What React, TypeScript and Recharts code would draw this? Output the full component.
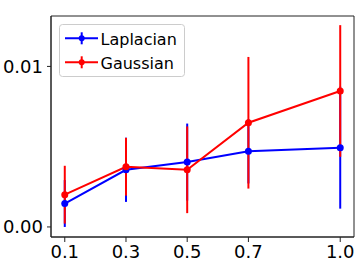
import React from "react";
import { LineChart, Line, XAxis, YAxis, ErrorBar, ReferenceArea } from "recharts";

const xValues = [0.1, 0.3, 0.5, 0.7, 1.0];
const laplacian = [0.00146, 0.00356, 0.00404, 0.00471, 0.00494];
const laplacianErr = [0.00146, 0.002, 0.0024, 0.002, 0.0038];
const gaussian = [0.00201, 0.00375, 0.00356, 0.00649, 0.00847];
const gaussianErr = [0.0018, 0.0018, 0.0027, 0.0041, 0.0041];
const xTicks = [0.1, 0.3, 0.5, 0.7, 1.0];
const yTicks = [0, 0.01];
const xDomain = [0.055, 1.045];
const yDomain = [-0.000626, 0.01314];
const seriesNames = ["Laplacian", "Gaussian"];
const seriesColors = ["#0000ff", "#ff0000"];

const data = xValues.map((x, i) => ({
  x,
  lap: laplacian[i],
  lapErr: laplacianErr[i],
  gau: gaussian[i],
  gauErr: gaussianErr[i],
}));

const FONT = "'DejaVu Sans', sans-serif";
const AXIS = "#222";

function LegendBox() {
  return (
    <div style={{ position: "absolute", left: 59, top: 24, width: 126, height: 53 }}>
      <svg width={126} height={53}>
        <rect x={0.5} y={0.5} width={125} height={52} rx={3} ry={3} fill="rgba(255,255,255,0.8)" stroke="#cccccc" strokeWidth={1} />
        {seriesNames.map((name, i) => {
          const cy = 14.3 + i * 24;
          return (
            <g key={name}>
              <line x1={6} x2={39} y1={cy} y2={cy} stroke={seriesColors[i]} strokeWidth={2} />
              <line x1={22.7} x2={22.7} y1={cy - 6} y2={cy + 6} stroke={seriesColors[i]} strokeWidth={2} />
              <circle cx={22.7} cy={cy} r={3} fill={seriesColors[i]} />
              <text x={41.5} y={cy + 6.5} fontFamily={FONT} fontSize={16} fill="#000">
                {name}
              </text>
            </g>
          );
        })}
      </svg>
    </div>
  );
}

export default function App() {
  return (
    <div style={{ position: "absolute", left: 0, top: 0, width: 357, height: 263, background: "#fff" }}>
      <LineChart
        width={357}
        height={263}
        data={data}
        margin={{ top: 16, right: 3, bottom: 0, left: 0 }}
      >
        <XAxis
          dataKey="x"
          type="number"
          domain={xDomain}
          ticks={xTicks}
          tickFormatter={(v: number) => v.toFixed(1)}
          height={26}
          tickSize={5}
          tickMargin={3}
          axisLine={{ stroke: AXIS, strokeWidth: 1 }}
          tickLine={{ stroke: AXIS }}
          tick={{ fontFamily: FONT, fontSize: 18, fill: "#000" }}
          interval={0}
          allowDataOverflow
        />
        <YAxis
          type="number"
          domain={yDomain}
          ticks={yTicks}
          tickFormatter={(v: number) => v.toFixed(2)}
          width={51}
          tickSize={4}
          tickMargin={4}
          axisLine={{ stroke: AXIS, strokeWidth: 1 }}
          tickLine={{ stroke: AXIS }}
          tick={{ fontFamily: FONT, fontSize: 18, fill: "#000" }}
          interval={0}
          allowDataOverflow
        />
        <ReferenceArea
          x1={xDomain[0]}
          x2={xDomain[1]}
          y1={yDomain[0]}
          y2={yDomain[1]}
          fill="none"
          fillOpacity={0}
          stroke={AXIS}
          strokeWidth={1}
          strokeOpacity={1}
          ifOverflow="extendDomain"
        />
        <Line
          dataKey="lap"
          stroke={seriesColors[0]}
          strokeWidth={2}
          dot={{ r: 3.5, fill: seriesColors[0], stroke: seriesColors[0], strokeWidth: 0 }}
          isAnimationActive={false}
        >
          <ErrorBar dataKey="lapErr" direction="y" width={0} stroke={seriesColors[0]} strokeWidth={2} />
        </Line>
        <Line
          dataKey="gau"
          stroke={seriesColors[1]}
          strokeWidth={2}
          dot={{ r: 3.5, fill: seriesColors[1], stroke: seriesColors[1], strokeWidth: 0 }}
          isAnimationActive={false}
        >
          <ErrorBar dataKey="gauErr" direction="y" width={0} stroke={seriesColors[1]} strokeWidth={2} />
        </Line>
      </LineChart>
      <LegendBox />
    </div>
  );
}
